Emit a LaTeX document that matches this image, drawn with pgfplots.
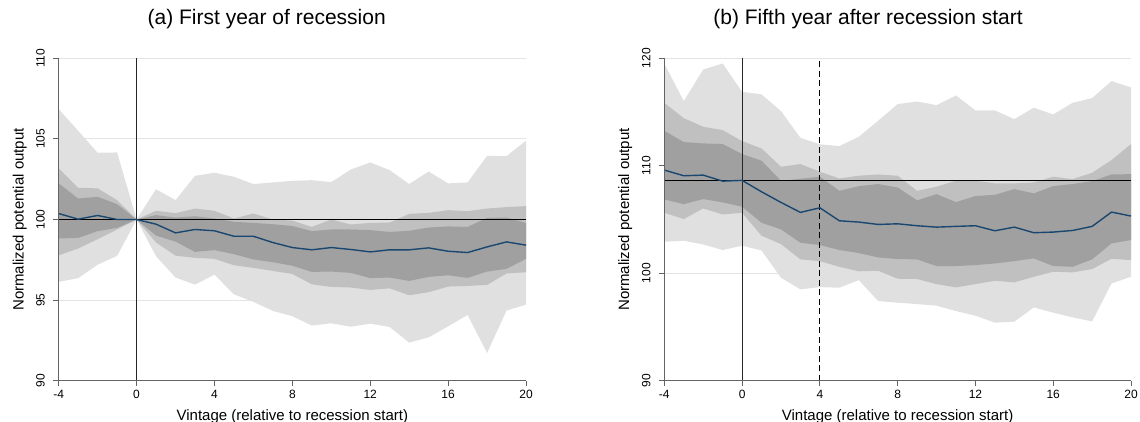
\documentclass[border=0pt]{standalone}
\usepackage{fontspec}
\setmainfont{Liberation Sans}
\usepackage{pgfplots}
\usepackage{pgfplotstable}
\pgfplotsset{compat=1.18}
\usepgfplotslibrary{fillbetween}
\tikzset{fill between/on layer=main}

\definecolor{bandA}{RGB}{224,224,224}
\definecolor{bandB}{RGB}{192,192,192}
\definecolor{bandC}{RGB}{160,160,160}
\definecolor{navy}{RGB}{26,71,111}
\definecolor{gridc}{RGB}{228,228,228}
\definecolor{axc}{RGB}{100,100,100}

% Panel (a): first year of recession
\pgfplotstableread{
x ou ol mu ml iu il med
-4 106.85 96.13 103.17 97.78 102.24 98.82 100.37
-3 105.50 96.36 101.97 98.20 101.30 98.86 100.02
-2 104.14 97.20 101.93 98.78 101.41 99.28 100.25
-1 104.16 97.74 101.20 99.38 100.95 99.48 100.00
0 100.00 100.00 100.00 100.00 100.00 100.00 100.00
1 101.88 97.72 100.54 98.57 100.27 99.00 99.71
2 101.20 96.40 100.39 97.76 100.12 98.63 99.17
3 102.71 95.96 100.68 97.62 100.20 97.99 99.38
4 102.90 96.58 100.54 97.56 100.06 98.10 99.30
5 102.65 95.36 100.06 97.16 99.86 97.85 98.96
6 102.20 94.89 100.37 97.00 99.79 97.52 98.96
7 102.30 94.33 100.00 96.81 99.71 97.35 98.57
8 102.40 94.00 99.93 96.62 99.60 97.13 98.26
9 102.44 93.42 99.54 95.98 99.28 96.75 98.12
10 102.32 93.56 100.00 95.82 99.38 96.77 98.26
11 103.10 93.35 99.69 95.78 99.38 96.69 98.14
12 103.54 93.54 99.79 95.63 99.34 96.36 97.99
13 103.06 93.33 99.81 95.73 99.23 96.40 98.12
14 102.20 92.36 100.35 95.30 99.30 96.19 98.12
15 102.98 92.69 100.41 95.49 99.50 96.44 98.24
16 102.24 93.37 100.58 95.84 99.57 96.54 98.03
17 102.30 94.08 100.52 95.88 99.54 96.38 97.95
18 103.95 91.72 100.68 95.94 100.10 96.77 98.30
19 103.93 94.35 100.77 96.65 100.12 96.94 98.61
20 104.89 94.72 100.83 96.73 99.79 97.56 98.41
}\tabA

% Panel (b): fifth year after recession start
\pgfplotstableread{
x ou ol mu ml iu il med
-4 119.52 102.93 115.86 105.63 113.26 106.87 109.60
-3 116.02 103.02 114.43 105.04 112.20 106.43 109.07
-2 118.96 102.68 113.63 106.03 112.08 106.90 109.13
-1 119.52 102.16 113.32 105.47 112.02 106.59 108.57
0 116.88 102.56 112.29 105.63 111.09 106.19 108.64
1 116.64 102.12 111.61 103.49 110.47 104.70 107.58
2 115.09 99.58 109.91 102.71 108.60 104.08 106.59
3 112.60 98.50 110.16 101.29 108.79 102.84 105.66
4 112.00 98.71 109.44 101.13 108.98 102.62 106.09
5 111.83 98.65 108.82 100.60 107.67 102.16 104.88
6 112.70 99.36 109.07 100.18 108.10 101.88 104.76
7 114.19 97.41 109.19 100.23 108.30 101.47 104.54
8 115.74 97.26 109.07 99.49 107.98 101.32 104.60
9 115.98 97.13 107.67 99.46 106.78 101.29 104.42
10 115.64 96.98 108.05 98.99 107.36 100.67 104.29
11 116.54 96.48 108.60 98.68 106.62 100.67 104.36
12 115.15 96.05 108.60 98.99 107.18 100.76 104.42
13 115.15 95.40 108.36 99.30 107.30 100.91 103.95
14 114.34 95.49 108.36 99.15 107.83 101.13 104.29
15 115.40 96.82 108.45 99.67 107.43 101.38 103.77
16 114.78 96.33 108.98 100.14 108.11 100.67 103.83
17 115.86 95.89 108.76 100.08 108.30 100.60 103.98
18 116.30 95.52 109.35 100.39 108.57 101.29 104.36
19 117.88 99.05 110.53 101.35 109.19 102.78 105.69
20 117.29 99.67 112.02 101.22 109.22 103.09 105.32
}\tabB

\pgfplotsset{
  myaxis/.style={
    scale only axis, height=322.4pt, anchor=south west,
    xmin=-4, xmax=20, xtick={-4,0,...,20},
    axis x line*=bottom, axis y line*=left,
    axis line style={axc, line width=0.9pt},
    tick align=outside, major tick length=5.3pt,
    tick style={axc, line width=0.9pt},
    /pgf/number format/assume math mode=true,
    tick label style={font=\fontsize{12}{14}\selectfont},
    yticklabel style={rotate=90, anchor=south, inner sep=0pt},
    xticklabel style={anchor=north, inner sep=0pt},
    xticklabel shift=3.7pt, yticklabel shift=8.4pt,
    every axis x label/.style={at={(axis description cs:0.5,-0.1219)}, anchor=base,
      font=\fontsize{15}{18}\selectfont},
    every axis y label/.style={at={(axis description cs:-0.0753,0.5)}, rotate=90, anchor=base,
      font=\fontsize{15}{18}\selectfont},
    title style={font=\fontsize{21}{25}\selectfont, anchor=base},
    axis on top,
    xlabel={Vintage (relative to recession start)},
    ylabel={Normalized potential output},
  },
  band/.style={draw=none, forget plot},
}

\begin{document}
\begin{tikzpicture}

\begin{axis}[myaxis, at={(58.7pt,40.3pt)}, width=467.3pt,
  ymin=90, ymax=110, ytick={90,95,100,105,110},
  title={(a) First year of recession},
  title style={at={(axis description cs:0.4451,1.0856)}}]
  \addplot[gridc, line width=0.8pt, forget plot] coordinates {(-4,95) (20,95)};
  \addplot[gridc, line width=0.8pt, forget plot] coordinates {(-4,100) (20,100)};
  \addplot[gridc, line width=0.8pt, forget plot] coordinates {(-4,105) (20,105)};
  \addplot[gridc, line width=0.8pt, forget plot] coordinates {(-4,110) (20,110)};
  \addplot[band, name path=ou] table[x=x, y=ou] {\tabA};
  \addplot[band, name path=ol] table[x=x, y=ol] {\tabA};
  \addplot[band, name path=mu] table[x=x, y=mu] {\tabA};
  \addplot[band, name path=ml] table[x=x, y=ml] {\tabA};
  \addplot[band, name path=iu] table[x=x, y=iu] {\tabA};
  \addplot[band, name path=il] table[x=x, y=il] {\tabA};
  \addplot[bandA, draw=none] fill between[of=ou and ol];
  \addplot[bandB, draw=none] fill between[of=mu and ml];
  \addplot[bandC, draw=none] fill between[of=iu and il];
  \addplot[black!85, line width=0.8pt] coordinates {(0,90) (0,110)};
  \addplot[black, line width=0.9pt] coordinates {(-4,100) (20,100)};
  \addplot[navy, line width=1.4pt] table[x=x, y=med] {\tabA};
\end{axis}

\begin{axis}[myaxis, at={(664.3pt,40.3pt)}, width=466.7pt,
  ymin=90, ymax=120, ytick={90,100,110,120},
  title={(b) Fifth year after recession start},
  title style={at={(axis description cs:0.4365,1.0856)}}]
  \addplot[gridc, line width=0.8pt, forget plot] coordinates {(-4,100) (20,100)};
  \addplot[gridc, line width=0.8pt, forget plot] coordinates {(-4,110) (20,110)};
  \addplot[gridc, line width=0.8pt, forget plot] coordinates {(-4,120) (20,120)};
  \addplot[band, name path=ou] table[x=x, y=ou] {\tabB};
  \addplot[band, name path=ol] table[x=x, y=ol] {\tabB};
  \addplot[band, name path=mu] table[x=x, y=mu] {\tabB};
  \addplot[band, name path=ml] table[x=x, y=ml] {\tabB};
  \addplot[band, name path=iu] table[x=x, y=iu] {\tabB};
  \addplot[band, name path=il] table[x=x, y=il] {\tabB};
  \addplot[bandA, draw=none] fill between[of=ou and ol];
  \addplot[bandB, draw=none] fill between[of=mu and ml];
  \addplot[bandC, draw=none] fill between[of=iu and il];
  \addplot[black!85, line width=0.8pt] coordinates {(0,90) (0,120)};
  \addplot[black, line width=0.8pt, dash pattern=on 6pt off 3.5pt] coordinates {(4,90) (4,120)};
  \addplot[black, line width=0.9pt] coordinates {(-4,108.64) (20,108.64)};
  \addplot[navy, line width=1.4pt] table[x=x, y=med] {\tabB};
\end{axis}

\pgfresetboundingbox
\useasboundingbox (0,0) rectangle (1140pt,421pt);
\end{tikzpicture}
\end{document}
